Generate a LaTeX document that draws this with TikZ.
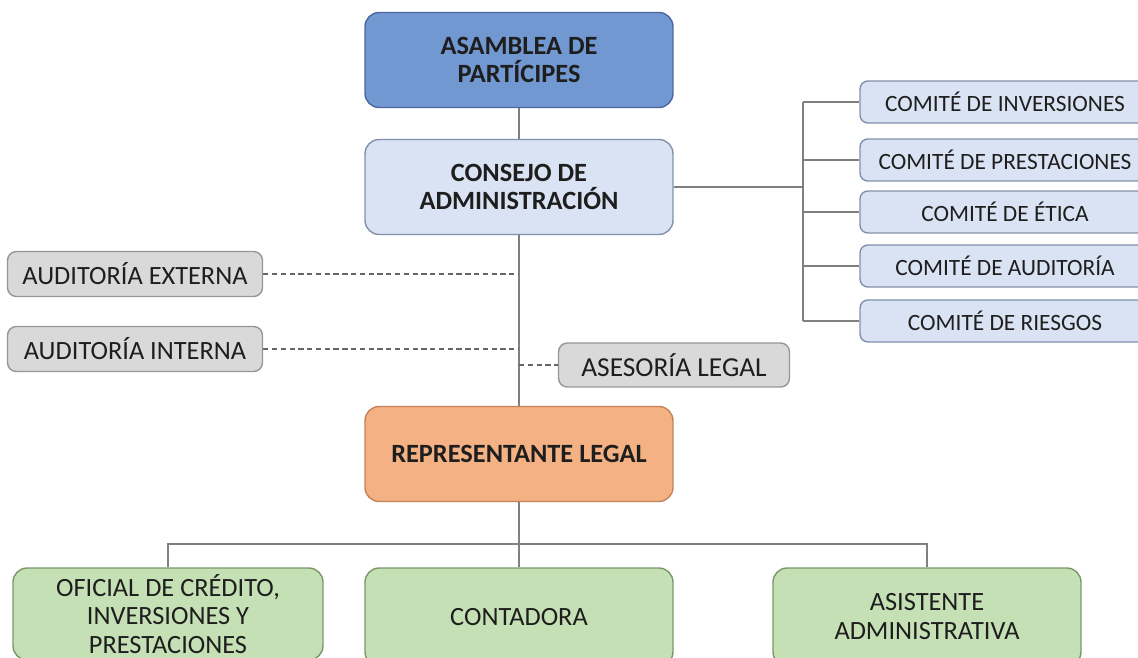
\documentclass[tikz,border=0pt]{standalone}
\usepackage{fontspec}
\setmainfont{Carlito}

\definecolor{asamFill}{RGB}{114,152,210}
\definecolor{asamLine}{RGB}{72,104,158}
\definecolor{paleFill}{RGB}{218,227,243}
\definecolor{paleLine}{RGB}{128,144,172}
\definecolor{greyFill}{RGB}{217,217,217}
\definecolor{greyLine}{RGB}{150,150,150}
\definecolor{orangeFill}{RGB}{244,177,131}
\definecolor{orangeLine}{RGB}{196,130,88}
\definecolor{greenFill}{RGB}{197,224,180}
\definecolor{greenLine}{RGB}{122,150,104}
\definecolor{linkGrey}{RGB}{128,128,128}
\definecolor{textDark}{RGB}{30,30,30}

\begin{document}
\begin{tikzpicture}[x=0.02cm, y=-0.02cm,
    box_style/.style={draw, line width=0.8pt, align=center, inner sep=2pt, text=textDark},
    big_style/.style={box_style, rounded corners=8pt, minimum width=6.16cm, minimum height=1.9cm,
        font=\fontsize{15}{16}\selectfont\bfseries},
    comite_style/.style={box_style, rounded corners=4.5pt, fill=paleFill, draw=paleLine,
        minimum width=5.8cm, minimum height=0.84cm, font=\fontsize{13.3}{15}\selectfont},
    apoyo_style/.style={box_style, rounded corners=5pt, fill=greyFill, draw=greyLine,
        minimum height=0.9cm, font=\fontsize{15}{16}\selectfont},
    area_style/.style={box_style, rounded corners=8pt, fill=greenFill, draw=greenLine,
        minimum height=1.96cm, font=\fontsize{15}{16.5}\selectfont},
    link_style/.style={draw=linkGrey, line width=0.6pt},
    dash_style/.style={draw=linkGrey!80!black, line width=0.7pt, dash pattern=on 3pt off 2pt}]

    \useasboundingbox (0,0) rectangle (1138,658);

    % cuerpos de gobierno
    \node[big_style, fill=asamFill, draw=asamLine] (asamblea) at (519,60) {ASAMBLEA DE\\PARTÍCIPES};
    \node[big_style, fill=paleFill, draw=paleLine] (consejo) at (519,187) {CONSEJO DE\\ADMINISTRACIÓN};
    \node[big_style, fill=orangeFill, draw=orangeLine] (rep) at (519,454) {REPRESENTANTE LEGAL};

    % comites
    \node[comite_style] (com1) at (1005,102) {COMITÉ DE INVERSIONES};
    \node[comite_style] (com2) at (1005,160) {COMITÉ DE PRESTACIONES};
    \node[comite_style] (com3) at (1005,212) {COMITÉ DE ÉTICA};
    \node[comite_style] (com4) at (1005,266) {COMITÉ DE AUDITORÍA};
    \node[comite_style] (com5) at (1005,321) {COMITÉ DE RIESGOS};

    % apoyo
    \node[apoyo_style, minimum width=5.1cm] (ext) at (135,274) {AUDITORÍA EXTERNA};
    \node[apoyo_style, minimum width=5.1cm] (int) at (135,349) {AUDITORÍA INTERNA};
    \node[apoyo_style, minimum width=4.62cm, minimum height=0.88cm, font=\fontsize{15.6}{16}\selectfont]
        (ases) at (674,365) {ASESORÍA LEGAL};

    % areas operativas
    \node[area_style, minimum width=6.2cm, minimum height=1.84cm, font=\fontsize{15}{16}\selectfont]
        (oficial) at (168,614) {OFICIAL DE CRÉDITO,\\INVERSIONES Y\\PRESTACIONES};
    \node[area_style, minimum width=6.16cm] (conta) at (519,617) {CONTADORA};
    \node[area_style, minimum width=6.16cm] (asist) at (927,617) {ASISTENTE\\ADMINISTRATIVA};

    \coordinate (brk) at (803,187);
    \coordinate (bus) at (519,544);

    \draw[link_style] (asamblea) -- (consejo);
    \draw[link_style] (consejo) -- (rep);
    \draw[link_style] (consejo.east) -- (brk);
    \draw[link_style] (brk |- com1) -- (brk |- com5);
    \foreach \c in {com1,com2,com3,com4,com5}
        \draw[link_style] (brk |- \c) -- (\c.west);

    \draw[dash_style] (ext.east) -- (ext.east -| consejo.south);
    \draw[dash_style] (int.east) -- (int.east -| consejo.south);
    \draw[dash_style] (ases.west -| consejo.south) -- (ases.west);

    \draw[link_style] (rep) -- (conta);
    \draw[link_style] (oficial.north) |- (bus) -| (asist.north);
\end{tikzpicture}
\end{document}
